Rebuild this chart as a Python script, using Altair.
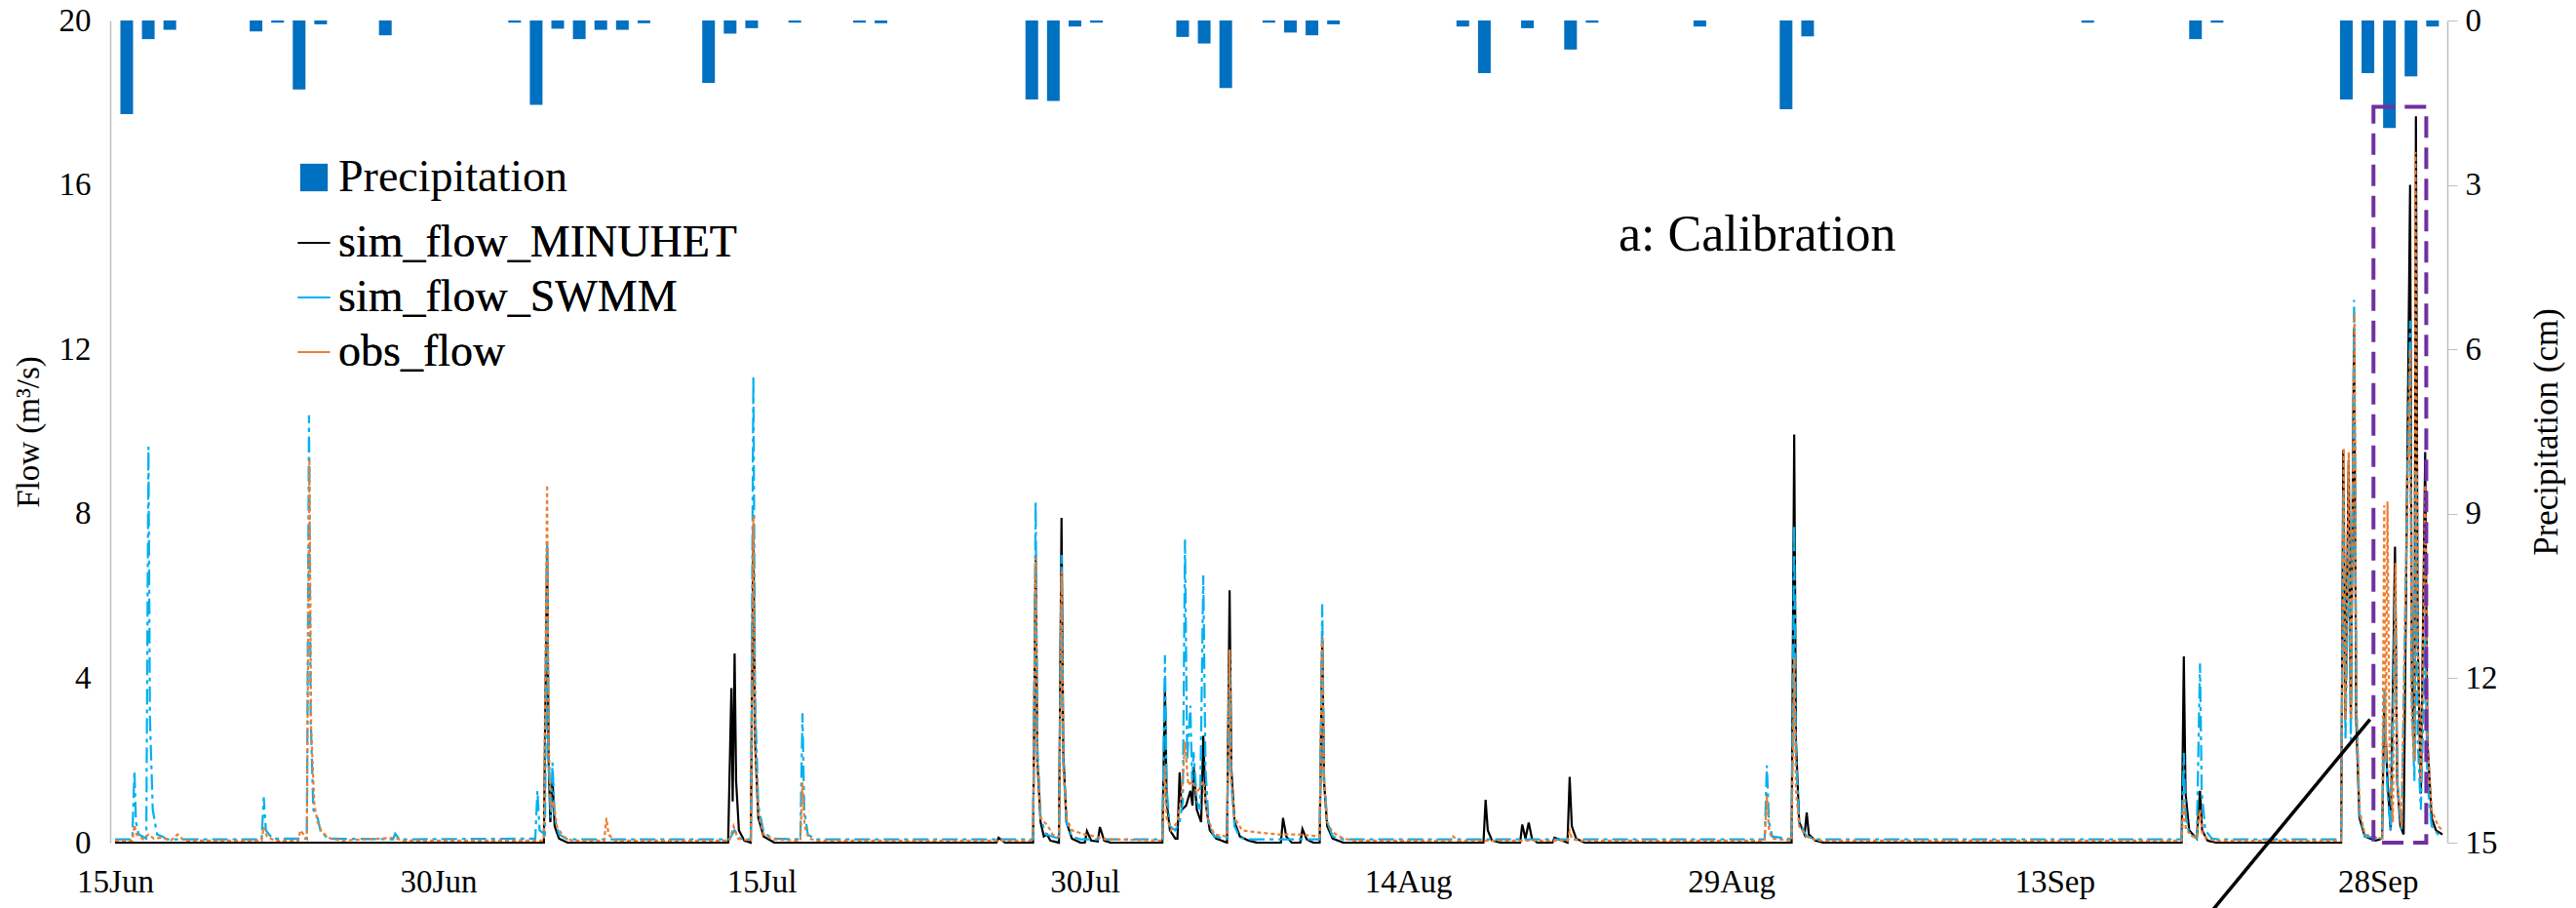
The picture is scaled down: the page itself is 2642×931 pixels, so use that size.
import altair as alt
import pandas as pd

START = pd.Timestamp("2014-06-15")

# ---------------- data ----------------
precip_date = ["2014-06-15", "2014-06-16", "2014-06-17", "2014-06-21", "2014-06-22", "2014-06-23",
               "2014-06-24", "2014-06-27", "2014-07-03", "2014-07-04", "2014-07-05", "2014-07-06",
               "2014-07-07", "2014-07-08", "2014-07-09", "2014-07-12", "2014-07-13", "2014-07-14",
               "2014-07-16", "2014-07-19", "2014-07-20", "2014-07-27", "2014-07-28", "2014-07-29",
               "2014-07-30", "2014-08-03", "2014-08-04", "2014-08-05", "2014-08-07", "2014-08-08",
               "2014-08-09", "2014-08-10", "2014-08-16", "2014-08-17", "2014-08-19", "2014-08-21",
               "2014-08-22", "2014-08-27", "2014-08-31", "2014-09-01", "2014-09-14", "2014-09-19",
               "2014-09-20", "2014-09-26", "2014-09-27", "2014-09-28", "2014-09-29", "2014-09-30"]
precip_cm = [1.71, 0.34, 0.17, 0.20, 0.04, 1.26, 0.07, 0.27, 0.04, 1.54, 0.15, 0.34,
             0.17, 0.17, 0.05, 1.14, 0.24, 0.14, 0.04, 0.04, 0.05, 1.44, 1.47, 0.11,
             0.04, 0.30, 0.42, 1.23, 0.04, 0.22, 0.27, 0.07, 0.11, 0.96, 0.14, 0.53,
             0.04, 0.11, 1.62, 0.29, 0.04, 0.34, 0.04, 1.44, 0.96, 1.96, 1.02, 0.11]

# (days since 15 Jun 00:00, flow m3/s)
minuhet = [(0, 0), (19.9, 0), (20.05, 7.2), (20.12, 2.0), (20.2, 0.5), (20.3, 1.56), (20.4, 0.4),
           (20.6, 0.1), (21.0, 0), (28.45, 0), (28.6, 3.76), (28.66, 1.0), (28.75, 4.6), (28.82, 1.5),
           (28.95, 0.3), (29.2, 0.05), (29.5, 0), (29.62, 7.6), (29.7, 2.5), (29.85, 0.6), (30.1, 0.15),
           (30.6, 0), (40.9, 0), (41.0, 0.12), (41.3, 0), (42.6, 0), (42.72, 7.0), (42.8, 2.0),
           (42.95, 0.5), (43.1, 0.15), (43.25, 0.2), (43.4, 0.05), (43.8, 0), (43.92, 7.9), (44.0, 2.2),
           (44.15, 0.5), (44.4, 0.1), (44.8, 0), (45.0, 0), (45.1, 0.28), (45.3, 0.05), (45.6, 0.03),
           (45.7, 0.38), (45.9, 0.05), (46.2, 0), (48.6, 0), (48.72, 3.8), (48.8, 1.0), (48.95, 0.3),
           (49.2, 0.1), (49.3, 0.1), (49.4, 1.71), (49.5, 0.8), (49.7, 0.9), (49.9, 1.26), (50.0, 0.9),
           (50.05, 1.85), (50.2, 0.8), (50.4, 0.5), (50.5, 2.6), (50.6, 1.0), (50.8, 0.3), (51.1, 0.1),
           (51.6, 0), (51.72, 6.14), (51.8, 1.8), (51.95, 0.5), (52.2, 0.15), (52.6, 0.05), (53.0, 0),
           (54.1, 0), (54.2, 0.6), (54.35, 0.15), (54.6, 0), (55.0, 0), (55.1, 0.33), (55.3, 0.08),
           (55.6, 0), (55.9, 0), (56.02, 5.0), (56.1, 1.5), (56.25, 0.4), (56.5, 0.1), (57.0, 0),
           (63.5, 0), (63.6, 1.04), (63.7, 0.3), (63.9, 0.05), (64.3, 0), (65.2, 0), (65.3, 0.44),
           (65.45, 0.1), (65.6, 0.49), (65.75, 0.1), (66.0, 0), (66.7, 0), (66.8, 0.12), (67.0, 0.08),
           (67.4, 0), (67.5, 1.6), (67.6, 0.4), (67.8, 0.1), (68.2, 0), (77.8, 0), (77.92, 9.93),
           (78.0, 2.5), (78.15, 0.5), (78.4, 0.2), (78.5, 0.73), (78.6, 0.2), (78.9, 0.05), (79.3, 0),
           (95.9, 0), (96.0, 4.53), (96.08, 1.2), (96.25, 0.3), (96.6, 0.1), (96.75, 1.26), (96.85, 0.3),
           (97.1, 0.05), (97.5, 0), (103.3, 0), (103.4, 9.55), (103.5, 3.0), (103.65, 9.3),
           (103.75, 3.0), (103.9, 12.5), (104.0, 3.0), (104.15, 0.6), (104.4, 0.15), (104.9, 0.05),
           (105.2, 0.1), (105.3, 3.5), (105.45, 1.5), (105.6, 0.3), (105.8, 7.2), (105.9, 1.5),
           (106.05, 0.4), (106.2, 0.2), (106.5, 16.0), (106.58, 4.0), (106.7, 2.0), (106.77, 17.67),
           (106.85, 5.0), (107.0, 1.2), (107.2, 9.5), (107.3, 2.5), (107.5, 0.6), (107.7, 0.3),
           (108.0, 0.2)]

swmm = [(0, 0.08), (0.8, 0.08), (0.9, 1.75), (0.97, 0.5), (1.1, 0.2), (1.45, 0.1), (1.55, 9.63),
        (1.62, 3.0), (1.75, 0.8), (1.95, 0.2), (2.2, 0.15), (2.4, 0.08), (6.8, 0.08), (6.9, 1.1),
        (7.0, 0.3), (7.3, 0.1), (8.9, 0.1), (9.0, 10.4), (9.08, 3.0), (9.2, 0.8), (9.4, 0.6),
        (9.55, 0.25), (9.9, 0.1), (12.9, 0.08), (13.0, 0.22), (13.2, 0.08), (19.5, 0.1), (19.6, 1.26),
        (19.7, 0.3), (19.95, 0.2), (20.05, 7.3), (20.12, 2.0), (20.22, 0.6), (20.3, 1.95), (20.4, 0.6),
        (20.6, 0.2), (21.0, 0.08), (28.5, 0.08), (28.75, 0.3), (29.0, 0.1), (29.5, 0.08),
        (29.62, 11.35), (29.7, 3.5), (29.85, 0.9), (30.1, 0.25), (30.5, 0.1), (31.8, 0.08),
        (31.9, 3.15), (31.98, 0.8), (32.15, 0.2), (32.5, 0.08), (42.6, 0.08), (42.72, 8.3),
        (42.8, 2.4), (42.95, 0.6), (43.2, 0.2), (43.8, 0.1), (43.92, 7.0), (44.0, 2.0), (44.15, 0.5),
        (44.4, 0.15), (44.8, 0.08), (48.6, 0.08), (48.72, 4.56), (48.8, 1.3), (48.95, 0.4),
        (49.2, 0.3), (49.4, 0.5), (49.55, 1.0), (49.65, 7.37), (49.75, 2.0), (49.9, 3.33),
        (49.98, 1.5), (50.05, 2.2), (50.2, 1.0), (50.35, 0.8), (50.5, 6.5), (50.6, 1.8), (50.75, 0.5),
        (51.0, 0.15), (51.6, 0.1), (51.72, 4.7), (51.8, 1.4), (51.95, 0.4), (52.2, 0.12),
        (52.6, 0.08), (55.9, 0.08), (56.02, 5.8), (56.1, 1.7), (56.25, 0.5), (56.5, 0.15),
        (57.0, 0.08), (76.55, 0.08), (76.65, 1.88), (76.75, 0.5), (76.9, 0.15), (77.8, 0.08),
        (77.92, 7.74), (78.0, 2.2), (78.15, 0.5), (78.5, 0.15), (79.0, 0.08), (95.9, 0.08),
        (96.0, 2.18), (96.08, 0.7), (96.25, 0.2), (96.6, 0.1), (96.75, 4.36), (96.83, 1.2),
        (97.0, 0.3), (97.3, 0.1), (97.6, 0.08), (103.3, 0.08), (103.4, 8.5), (103.5, 2.5),
        (103.65, 7.4), (103.75, 2.5), (103.9, 13.2), (104.0, 3.5), (104.15, 0.7), (104.4, 0.15),
        (105.2, 0.1), (105.3, 3.8), (105.45, 1.2), (105.6, 0.3), (105.8, 6.0), (105.9, 1.5),
        (106.1, 0.3), (106.5, 12.7), (106.58, 3.5), (106.7, 1.5), (106.77, 9.0), (106.85, 2.5),
        (107.0, 0.8), (107.2, 5.0), (107.3, 1.5), (107.5, 0.4), (107.8, 0.2), (108.0, 0.15)]

obs = [(0, 0.05), (0.8, 0.05), (0.9, 0.43), (1.0, 0.2), (1.3, 0.08), (1.55, 0.2), (1.8, 0.1),
       (2.2, 0.12), (2.6, 0.06), (2.9, 0.2), (3.2, 0.05), (6.8, 0.05), (6.9, 0.38), (7.05, 0.15),
       (7.4, 0.05), (8.5, 0.05), (8.6, 0.3), (8.9, 0.1), (9.02, 9.33), (9.1, 2.8), (9.25, 0.9),
       (9.4, 0.5), (9.6, 0.25), (10.0, 0.1), (10.5, 0.05), (13.0, 0.12), (13.3, 0.05), (19.9, 0.05),
       (20.05, 8.7), (20.12, 2.5), (20.22, 0.8), (20.35, 1.0), (20.5, 0.4), (20.8, 0.15),
       (21.2, 0.05), (22.7, 0.05), (22.8, 0.6), (22.9, 0.2), (23.2, 0.05), (28.5, 0.05), (28.7, 0.4),
       (28.9, 0.1), (29.5, 0.05), (29.62, 7.95), (29.7, 2.3), (29.85, 0.7), (30.1, 0.2), (30.5, 0.08),
       (31.8, 0.05), (31.9, 1.47), (32.0, 0.4), (32.2, 0.1), (32.6, 0.05), (42.6, 0.05),
       (42.72, 6.93), (42.8, 2.0), (42.95, 0.6), (43.3, 0.4), (43.5, 0.2), (43.8, 0.15),
       (43.92, 6.6), (44.0, 1.8), (44.15, 0.6), (44.4, 0.3), (45.0, 0.2), (45.5, 0.15), (46.0, 0.08),
       (48.6, 0.05), (48.72, 1.87), (48.8, 0.6), (49.0, 0.3), (49.3, 0.5), (49.5, 1.2), (49.65, 2.45),
       (49.8, 1.4), (50.0, 1.5), (50.2, 1.2), (50.5, 1.5), (50.7, 0.6), (51.0, 0.2), (51.6, 0.15),
       (51.72, 4.69), (51.8, 1.5), (51.95, 0.6), (52.3, 0.3), (53.0, 0.25), (54.0, 0.2), (55.0, 0.2),
       (55.9, 0.15), (56.02, 4.97), (56.1, 1.5), (56.25, 0.5), (56.5, 0.25), (57.0, 0.1),
       (57.5, 0.05), (62.0, 0.05), (62.1, 0.15), (62.3, 0.05), (67.4, 0.05), (67.5, 0.28),
       (67.6, 0.1), (67.9, 0.05), (76.55, 0.05), (76.65, 1.14), (76.75, 0.3), (76.9, 0.1),
       (77.8, 0.05), (77.92, 4.5), (78.0, 1.3), (78.15, 0.4), (78.5, 0.15), (79.0, 0.05),
       (95.9, 0.05), (96.0, 1.05), (96.1, 0.3), (96.6, 0.1), (96.75, 0.8), (96.85, 0.25),
       (97.1, 0.08), (97.5, 0.05), (103.3, 0.05), (103.42, 9.6), (103.5, 3.0), (103.65, 9.5),
       (103.75, 3.0), (103.92, 12.9), (104.0, 3.5), (104.15, 0.8), (104.4, 0.2), (105.2, 0.1),
       (105.3, 8.2), (105.37, 2.0), (105.45, 8.3), (105.55, 2.0), (105.7, 0.5), (105.82, 6.8),
       (105.9, 1.5), (106.1, 0.4), (106.5, 12.0), (106.58, 3.0), (106.7, 2.0), (106.75, 16.8),
       (106.85, 5.0), (107.0, 1.5), (107.2, 8.7), (107.3, 2.5), (107.5, 0.8), (107.8, 0.4),
       (108.0, 0.3)]

series_names = ["sim_flow_MINUHET", "sim_flow_SWMM", "obs_flow"]
series_colors = ["#000000", "#00B0F0", "#ED7D31"]
series_dash = [[1, 0], [16, 5, 4, 5], [4, 3]]

tick_dates = ["2014-06-15", "2014-06-30", "2014-07-15", "2014-07-30",
              "2014-08-14", "2014-08-29", "2014-09-13", "2014-09-28"]
x_start, x_end = "2014-06-15", "2014-10-01"

# annotation: dashed box (days, flow) and pointer line (days, flow)
box_days = (104.8, 107.25)
box_flow = (0.0, 17.9)
pointer_days = (104.64, 95.2)
pointer_flow = (3.0, -3.0)
label_text = "a: Calibration"
label_day, label_flow = 76.2, 14.4

# ---------------- tables ----------------
def tdays(d):
    return START + pd.to_timedelta(d, unit="D")

pdf = pd.DataFrame({"t": pd.to_datetime(precip_date) + pd.Timedelta(hours=13),
                    "p": precip_cm, "lab": "Precipitation"})

rows = []
for name, ser in zip(series_names, [minuhet, swmm, obs]):
    for i, (d, q) in enumerate(ser):
        rows.append({"t": tdays(d), "q": q, "series": name, "i": i})
ldf = pd.DataFrame(rows)

box_df = pd.DataFrame({"t": [tdays(box_days[0])], "t2": [tdays(box_days[1])],
                       "q": [box_flow[1]], "q2": [box_flow[0]]})
ptr_df = pd.DataFrame({"t": [tdays(pointer_days[0])], "t2": [tdays(pointer_days[1])],
                       "q": [pointer_flow[0]], "q2": [pointer_flow[1]]})
lab_df = pd.DataFrame({"t": [tdays(label_day)], "q": [label_flow], "txt": [label_text]})

def dt(s):
    ts = pd.Timestamp(s)
    return alt.DateTime(year=ts.year, month=ts.month, date=ts.day)

FONT = "'Liberation Serif', 'Times New Roman', 'DejaVu Serif', serif"
xscale = alt.Scale(domain=[dt(x_start), dt(x_end)], nice=False)
xaxis = alt.Axis(values=[dt(s) for s in tick_dates], format="%-d%b", title=None, grid=False,
                 ticks=False, domain=False, labelFont=FONT, labelFontSize=33, labelColor="#000",
                 labelPadding=24, labelFlush=False, labelOverlap=False)
flow_scale = alt.Scale(domain=[0, 20], nice=False, zero=True)
flow_axis = alt.Axis(values=[0, 4, 8, 12, 16, 20], orient="left", grid=False, ticks=False,
                     domainColor="#BFBFBF", domainWidth=1.5, labelFont=FONT, labelFontSize=33,
                     labelColor="#000", labelPadding=20, title="Flow (m³/s)", titleFont=FONT,
                     titleFontSize=33, titleFontWeight="normal", titleColor="#000", titlePadding=14)
X = alt.X("t:T", scale=xscale, axis=xaxis)

bars = alt.Chart(pdf).mark_bar(size=13).encode(
    x=X,
    y=alt.Y("p:Q", scale=alt.Scale(domain=[0, 15], reverse=True, nice=False),
            axis=alt.Axis(values=[0, 3, 6, 9, 12, 15], orient="right", grid=False, tickSize=10,
                          tickColor="#BFBFBF", domainColor="#BFBFBF", domainWidth=1.5,
                          labelFont=FONT, labelFontSize=33, labelColor="#000", labelPadding=8,
                          title="Precipitation (cm)", titleFont=FONT, titleFontSize=35,
                          titleFontWeight="normal", titleColor="#000", titleAngle=270,
                          titlePadding=68)),
    color=alt.Color("lab:N", scale=alt.Scale(domain=["Precipitation"], range=["#0070C0"]),
                    legend=alt.Legend(title=None, orient="none", legendX=186, legendY=138,
                                      symbolType="square", symbolSize=800, labelFont=FONT,
                                      labelFontSize=46, labelColor="#000", labelOffset=2,
                                      labelLimit=800, padding=0)),
)

line_legend = alt.Legend(title=None, orient="none", legendX=186, legendY=205, symbolType="stroke",
                         symbolSize=1089, symbolStrokeWidth=2, labelFont=FONT, labelFontSize=46,
                         labelColor="#000", labelOffset=2, labelLimit=800, rowPadding=10,
                         padding=0)
lines = alt.Chart(ldf).mark_line(strokeWidth=2.2).encode(
    x=X,
    y=alt.Y("q:Q", scale=flow_scale, axis=flow_axis),
    color=alt.Color("series:N", scale=alt.Scale(domain=series_names, range=series_colors),
                    legend=line_legend),
    strokeDash=alt.StrokeDash("series:N", scale=alt.Scale(domain=series_names, range=series_dash),
                              legend=line_legend),
    order="i:Q",
)

box = alt.Chart(box_df).mark_rect(filled=False, stroke="#7030A0", strokeWidth=4,
                                  strokeDash=[22, 10]).encode(
    x=X, x2="t2:T", y=alt.Y("q:Q", scale=flow_scale, axis=flow_axis), y2="q2:Q")

pointer = alt.Chart(ptr_df).mark_rule(color="#000", strokeWidth=3.5, clip=False).encode(
    x=X, x2="t2:T", y=alt.Y("q:Q", scale=flow_scale, axis=flow_axis), y2="q2:Q")

label = alt.Chart(lab_df).mark_text(font=FONT, fontSize=52, color="#000", align="center",
                                    baseline="alphabetic").encode(
    x=X, y=alt.Y("q:Q", scale=flow_scale, axis=flow_axis), text="txt:N")

flow = alt.layer(lines, box, pointer, label)

chart = alt.layer(bars, flow).resolve_scale(
    y="independent", color="independent"
).properties(
    width=2397, height=843,
    padding={"left": 113, "top": 21, "right": 132, "bottom": 67},
    autosize=alt.AutoSizeParams(type="none"),
    background="white",
).configure_view(stroke=None)

chart.save("out.html", embed_options={"renderer": "svg", "actions": False})
